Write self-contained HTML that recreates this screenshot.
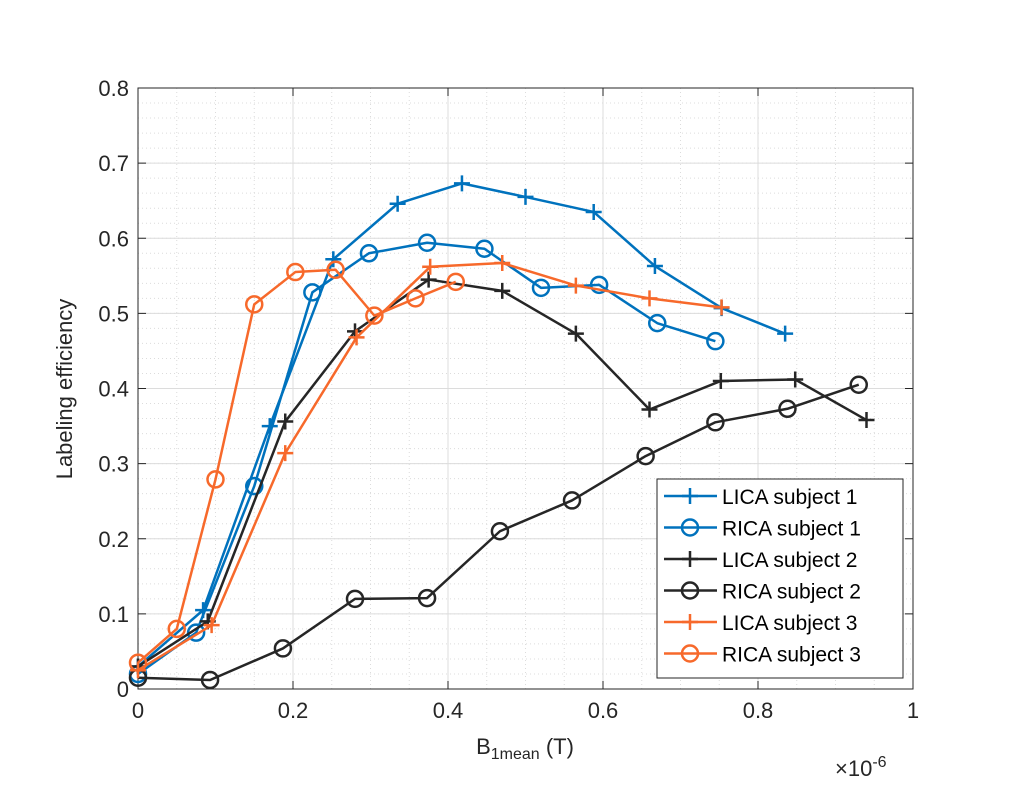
<!DOCTYPE html>
<html><head><meta charset="utf-8"><style>
body{margin:0;background:#fff;}
svg{display:block;font-family:"Liberation Sans",Arial,sans-serif;}
</style></head><body>
<svg id="chart" width="1018" height="810" xmlns="http://www.w3.org/2000/svg">
<rect x="0" y="0" width="1018" height="810" fill="#fff"/>
<g id="grid"></g><g id="axes"></g><g id="series"></g><g id="legend"></g>
</svg>
<script>
const xTicks=[0,0.2,0.4,0.6,0.8,1];
const xTickLabels=["0","0.2","0.4","0.6","0.8","1"];
const yTicks=[0,0.1,0.2,0.3,0.4,0.5,0.6,0.7,0.8];
const yTickLabels=["0","0.1","0.2","0.3","0.4","0.5","0.6","0.7","0.8"];
const seriesNames=["LICA subject 1","RICA subject 1","LICA subject 2","RICA subject 2","LICA subject 3","RICA subject 3"];
const lica1X=[0,0.084,0.17,0.252,0.335,0.418,0.5,0.588,0.667,0.753,0.835];
const lica1Y=[0.03,0.105,0.35,0.572,0.646,0.673,0.655,0.635,0.563,0.507,0.473];
const rica1X=[0,0.075,0.15,0.225,0.298,0.373,0.447,0.52,0.595,0.67,0.745];
const rica1Y=[0.02,0.075,0.27,0.528,0.58,0.594,0.586,0.534,0.538,0.487,0.463];
const lica2X=[0,0.09,0.19,0.28,0.375,0.47,0.565,0.66,0.752,0.848,0.94];
const lica2Y=[0.03,0.09,0.356,0.476,0.545,0.53,0.473,0.372,0.41,0.412,0.358];
const rica2X=[0,0.093,0.187,0.28,0.373,0.467,0.56,0.655,0.745,0.838,0.93];
const rica2Y=[0.015,0.012,0.054,0.12,0.121,0.21,0.251,0.31,0.355,0.373,0.405];
const lica3X=[0,0.095,0.19,0.282,0.377,0.47,0.565,0.66,0.753];
const lica3Y=[0.025,0.085,0.314,0.468,0.562,0.567,0.537,0.52,0.508];
const rica3X=[0,0.05,0.1,0.15,0.203,0.255,0.305,0.358,0.41];
const rica3Y=[0.035,0.08,0.279,0.512,0.555,0.558,0.497,0.52,0.542];

const NS="http://www.w3.org/2000/svg";
const L=138,R=913,T=88,B=689;
const sx=v=>L+(v-0)/(1-0)*(R-L);
const sy=v=>B-(v-0)/(0.8-0)*(B-T);
function mk(tag,attrs,parent){const e=document.createElementNS(NS,tag);for(const k in attrs)e.setAttribute(k,attrs[k]);parent.appendChild(e);return e;}
const grid=document.getElementById('grid'),axes=document.getElementById('axes'),ser=document.getElementById('series'),leg=document.getElementById('legend');
for(let i=1;i<20;i++){const x=sx(i*0.05);const g=mk('line',{x1:x,x2:x,y1:T,y2:B,stroke:'#dcdcdc','stroke-width':1,'stroke-dasharray':'1,3'},grid);

}
for(let i=1;i<40;i++){const y=sy(i*0.02);const g=mk('line',{x1:L,x2:R,y1:y,y2:y,stroke:'#dcdcdc','stroke-width':1,'stroke-dasharray':'1,3'},grid);

}
xTicks.forEach((v,i)=>{const x=sx(v);
const g=mk('line',{x1:x,x2:x,y1:T,y2:B,stroke:'#dcdcdc','stroke-width':1},grid);


mk('line',{x1:x,x2:x,y1:B,y2:B-8,stroke:'#262626'},axes);
mk('line',{x1:x,x2:x,y1:T,y2:T+8,stroke:'#262626'},axes);
const t=mk('text',{x:x,y:B+29,'text-anchor':'middle','font-size':22,fill:'#262626'},axes);t.textContent=xTickLabels[i];

});
yTicks.forEach((v,i)=>{const y=sy(v);
const g=mk('line',{x1:L,x2:R,y1:y,y2:y,stroke:'#dcdcdc','stroke-width':1},grid);


mk('line',{x1:L,x2:L+8,y1:y,y2:y,stroke:'#262626'},axes);
mk('line',{x1:R,x2:R-8,y1:y,y2:y,stroke:'#262626'},axes);
const t=mk('text',{x:L-9,y:y+8,'text-anchor':'end','font-size':22,fill:'#262626'},axes);t.textContent=yTickLabels[i];

});
const box=mk('rect',{x:L,y:T,width:R-L,height:B-T,fill:'none',stroke:'#262626','stroke-width':1},axes);


const yl=mk('text',{x:0,y:0,transform:'translate(72,389) rotate(-90)','text-anchor':'middle','font-size':22,fill:'#262626'},axes);
yl.textContent='Labeling efficiency';


const xl=mk('text',{x:525,y:754,'text-anchor':'middle','font-size':22,fill:'#262626'},axes);
xl.innerHTML='B<tspan font-size="16" dy="5">1mean</tspan><tspan dy="-5"> (T)</tspan>';


const ex=mk('text',{x:835,y:776,'font-size':22,fill:'#262626'},axes);
ex.innerHTML='×10<tspan font-size="16" dy="-9">-6</tspan>';



const defs=[[lica1X,lica1Y,'#0072BD','+'],[rica1X,rica1Y,'#0072BD','o'],[lica2X,lica2Y,'#262626','+'],[rica2X,rica2Y,'#262626','o'],[lica3X,lica3Y,'#F7692B','+'],[rica3X,rica3Y,'#F7692B','o']];
function marker(p,x,y,c,m){if(m==='o'){mk('circle',{cx:x,cy:y,r:8,fill:'none',stroke:c,'stroke-width':2.5},p);}else{mk('path',{d:`M${x-8},${y}H${x+8}M${x},${y-8}V${y+8}`,stroke:c,'stroke-width':2.5},p);}}
leg.appendChild(document.createElementNS(NS,'g'));
const lbg=mk('rect',{x:657,y:479,width:246,height:199,fill:'#fff',stroke:'#262626','stroke-width':1},leg);


defs.forEach((d,i)=>{const g=mk('g',{},ser);


const pts=d[0].map((v,j)=>sx(v)+','+sy(d[1][j])).join(' ');
mk('polyline',{points:pts,fill:'none',stroke:d[2],'stroke-width':2.5,'stroke-linejoin':'round'},g);
d[0].forEach((v,j)=>marker(g,sx(v),sy(d[1][j]),d[2],d[3]));
const ly=496+i*31.5;
const le=mk('g',{},leg);


mk('line',{x1:664,x2:717,y1:ly,y2:ly,stroke:d[2],'stroke-width':2.5},le);
marker(le,690,ly,d[2],d[3]);
const t=mk('text',{x:722,y:ly+8,'font-size':21,fill:'#000'},le);t.textContent=seriesNames[i];});
</script>
</body></html>
